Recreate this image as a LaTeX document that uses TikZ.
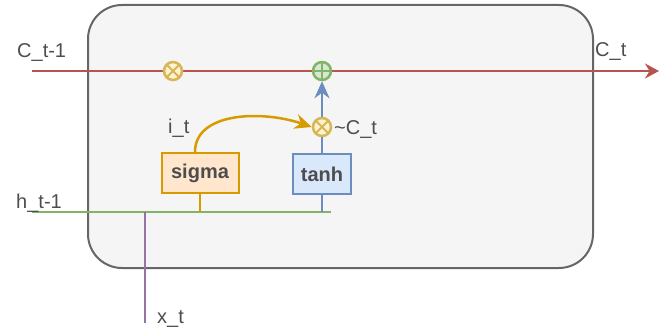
\documentclass[tikz,border=0pt]{standalone}
\usepackage{fontspec}
\setmainfont{Liberation Sans}
\usetikzlibrary{arrows.meta}

\definecolor{cellfill}{HTML}{F5F5F5}
\definecolor{celldraw}{HTML}{666666}
\definecolor{labelgray}{HTML}{4D4D4D}
\definecolor{cellred}{HTML}{B85450}
\definecolor{gatefill}{HTML}{FFF2CC}
\definecolor{gatedraw}{HTML}{D6B656}
\definecolor{addfill}{HTML}{D5E8D4}
\definecolor{adddraw}{HTML}{82B366}
\definecolor{tanhfill}{HTML}{DAE8FC}
\definecolor{tanhdraw}{HTML}{6C8EBF}
\definecolor{sigfill}{HTML}{FFE6CC}
\definecolor{sigdraw}{HTML}{D79B00}
\definecolor{xpurple}{HTML}{9673A6}

\pgfdeclarelayer{back}
\pgfdeclarelayer{wires}
\pgfsetlayers{back,wires,main}

\tikzset{
  lbl/.style={anchor=base west, inner sep=0pt, text=labelgray,
    font=\fontsize{20}{24}\selectfont},
  timesgate/.style={circle, minimum size=18pt, inner sep=0pt,
    draw=gatedraw, fill=gatefill, line width=2.5pt,
    path picture={
      \draw[gatedraw, line width=2pt]
        (path picture bounding box.north west) -- (path picture bounding box.south east)
        (path picture bounding box.north east) -- (path picture bounding box.south west);}},
  plusgate/.style={circle, minimum size=18pt, inner sep=0pt,
    draw=adddraw, fill=addfill, line width=2.5pt,
    path picture={
      \draw[adddraw, line width=2pt]
        (path picture bounding box.north) -- (path picture bounding box.south)
        (path picture bounding box.east) -- (path picture bounding box.west);}},
  actbox/.style={rectangle, line width=2pt, inner sep=0pt, text=labelgray,
    font=\fontsize{20}{24}\selectfont\bfseries, minimum height=40pt},
}

\begin{document}
\begin{tikzpicture}[x=1pt, y=-1pt, >=Stealth]
\useasboundingbox (0,0) rectangle (659,329);

% --- cell body ---
\begin{pgfonlayer}{back}
\draw[draw=celldraw, fill=cellfill, line width=2pt, rounded corners=34pt]
  (88,5) rectangle (593,268);
\end{pgfonlayer}

% --- gates ---
\node[timesgate] (forget) at (173,71) {};
\node[plusgate] (add) at (322,71) {};
\node[timesgate] (mult) at (322,127) {};

\node[actbox, draw=sigdraw, fill=sigfill, minimum width=77pt]
  (sigma) at (200,173) {sigma};
\node[actbox, draw=tanhdraw, fill=tanhfill, minimum width=58pt]
  (tanh) at (322,174) {tanh};

% --- wire ends ---
\coordinate (cin) at (32,71);
\coordinate (cout) at (659,71);
\coordinate (hin) at (32,212);
\coordinate (hend) at (331,212);
\coordinate (xin) at (145,323);
\coordinate (xjoin) at (145,212);

\begin{pgfonlayer}{wires}
% cell state
\draw[cellred, line width=2.5pt, -{Stealth[length=14pt, width=15pt]}]
  (cin) -- (cout);
% hidden state and input
\draw[adddraw, line width=2.5pt] (hin) -- (hend);
\draw[xpurple, line width=2.5pt] (xin) -- (xjoin);
% branches into the activations
\draw[sigdraw, line width=2.5pt] (sigma.south) -- (sigma.south |- hin);
\draw[tanhdraw, line width=2.5pt] (tanh.south) -- (tanh.south |- hin);
\end{pgfonlayer}

% --- candidate path ---
\draw[tanhdraw, line width=2.5pt] (tanh.north) -- (mult.south);
\draw[tanhdraw, line width=2.5pt, -{Stealth[length=17pt, width=15pt]}]
  (mult.north) -- (add.south);
\draw[sigdraw, line width=2.5pt, -{Stealth[length=17pt, width=15pt]}]
  ([xshift=-5pt]sigma.north) .. controls (195,112) and (262,110) .. (mult.west);

% --- labels ---
\node[lbl] (lcprev) at (17,58) {C\_t-1};
\node[lbl] (lcnext) at (595,57) {C\_t};
\node[lbl] (lit) at (168,133) {i\_t};
\node[lbl] (lctilde) at (334,135) {\textasciitilde C\_t};
\node[lbl] (lhprev) at (16,208) {h\_t-1};
\node[lbl] (lxt) at (157,323) {x\_t};

\end{tikzpicture}
\end{document}
